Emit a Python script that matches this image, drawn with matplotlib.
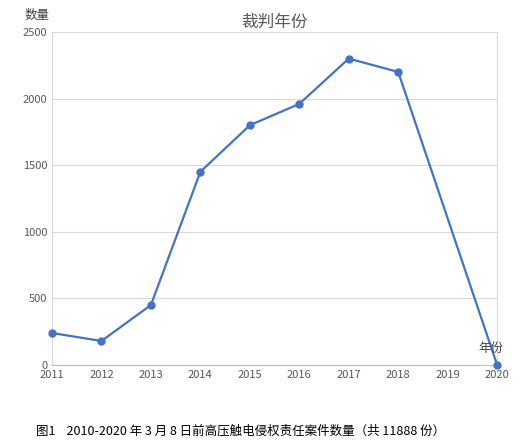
import matplotlib
matplotlib.use("Agg")
import matplotlib.pyplot as plt

plt.rcParams['font.family'] = ['Noto Sans CJK SC', 'DejaVu Sans']

years = [2011, 2012, 2013, 2014, 2015, 2016, 2017, 2018, 2020]
counts = [240, 180, 450, 1450, 1800, 1960, 2300, 2200, 0]
xticks = list(range(2011, 2021))

fig = plt.figure(figsize=(5.2, 4.44), dpi=100)
ax = fig.add_axes([0.1, 0.178, 0.856, 0.75])
ax.plot(years, counts, color='#4472C4', lw=1.6, marker='o', ms=5, clip_on=False, zorder=3)
ax.set_xlim(2011, 2020)
ax.set_ylim(0, 2500)
ax.set_yticks(range(0, 2501, 500))
ax.set_xticks(xticks)
ax.tick_params(labelsize=8, colors='#595959', length=0)
ax.grid(axis='y', color='#D9D9D9', lw=0.8)
ax.spines['top'].set_visible(False)
ax.spines['left'].set_color('#D9D9D9')
ax.spines['right'].set_color('#D9D9D9')
ax.spines['bottom'].set_color('#BFBFBF')
ax.set_title('裁判年份', fontsize=12, color='#595959', pad=4)
fig.text(0.048, 0.965, '数量', fontsize=9, color='#404040', va='center')
fig.text(0.92, 0.215, '年份', fontsize=9, color='#404040', va='center')
fig.text(0.07, 0.028, '图1    2010-2020 年 3 月 8 日前高压触电侵权责任案件数量（共 11888 份）',
         fontsize=9, color='black', va='center')
fig.savefig('out.png', dpi=100)
